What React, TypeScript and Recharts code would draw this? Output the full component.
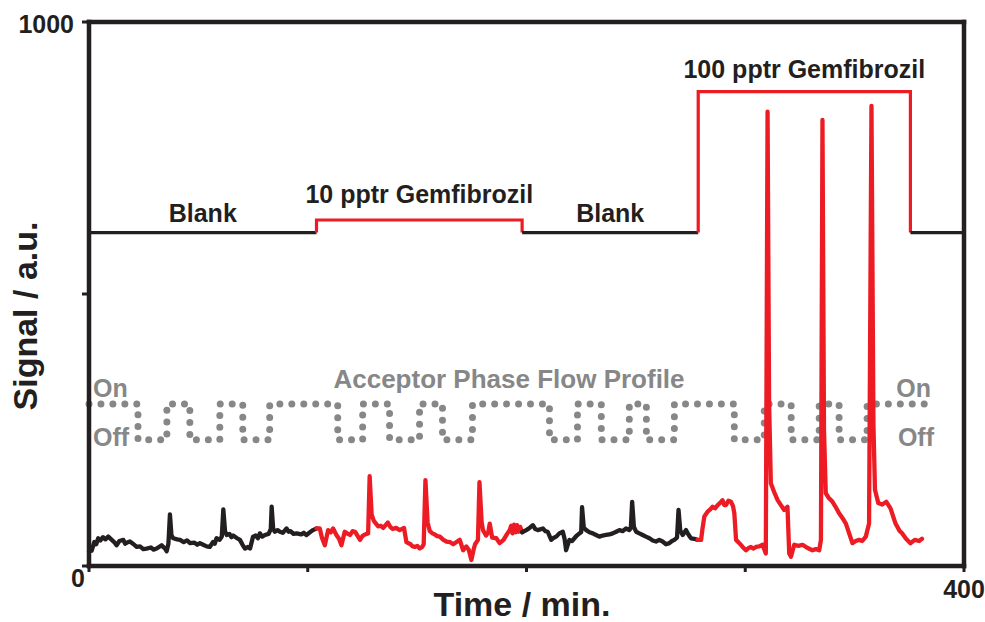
import React from 'react';
import { LineChart, Line, XAxis, YAxis, ReferenceLine, ReferenceDot } from 'recharts';

const FONT = '"Liberation Sans", Arial, Helvetica, sans-serif';
const INK = '#231f20';
const RED = '#ed1c24';
const GREY = '#878787';

// injection program: segment edges (min), level drawn for each segment, caption
const injectionEdges = [0, 104, 198, 278.5, 375.5, 400];
const injectionLevels = [613, 636, 613, 872, 613];
const injectionLabels = ['Blank', '10 pptr Gemfibrozil', 'Blank', '100 pptr Gemfibrozil', ''];
const baseLevel = 613;

// acceptor phase valve switching times (min), profile starts "On"
const flowSwitchTimes = [
  0, 22.4, 35.6, 46.1, 59.8, 70.3, 82.6, 113.7, 125.1, 137.4, 151.1, 161.6, 175.3,
  210.5, 223.3, 234.2, 247, 254.8, 267.6, 295, 308.7, 321, 333.8, 342.9, 355.7, 384,
];
const flowOnLevel = 298;
const flowOffLevel = 232;

// detector trace, [time (min), signal (a.u.)]
const blankOneTrace = [
  [0, 27], [1.2, 28], [2.4, 44], [3.3, 40], [4.2, 51], [5.2, 47], [6.4, 53], [7.5, 49], [8.8, 54],
  [10.4, 48], [11.5, 44], [12.6, 38], [13.9, 46], [15.7, 48], [16.5, 41], [17.4, 43], [18.7, 45],
  [20.4, 40], [21.8, 35], [23.3, 36], [24.8, 31], [26.3, 32], [28.3, 34], [29.5, 30], [30.9, 32],
  [32, 35], [33.2, 38], [34.8, 32], [35.5, 27], [36.3, 41], [37, 95], [37.7, 56], [38.5, 51],
  [40.3, 49], [41.6, 48], [43.3, 44], [44.8, 47], [46.2, 42], [48.2, 43], [49.5, 39], [50.7, 42],
  [52.2, 39], [53.8, 36], [55.2, 35], [56.7, 44], [57.5, 41], [58.3, 51], [59.7, 48], [60.7, 54],
  [61.4, 104], [62.2, 64], [62.9, 57], [64.2, 59], [65.1, 53], [65.9, 56], [67.7, 51], [69, 48],
  [70.2, 39], [71.3, 32], [72.5, 35], [73.6, 32], [75, 54], [76.2, 56], [77.2, 51], [78.1, 60],
  [79.2, 54], [80.4, 57], [82.1, 59], [83.1, 68], [83.5, 109], [84.2, 68], [85, 63], [86.2, 66],
  [87.3, 63], [88.6, 61], [90.3, 69], [91.2, 63], [92.1, 64], [93.5, 59], [94.9, 60], [97, 58],
  [98.2, 61], [99.4, 57], [101, 62], [102.4, 66], [104, 69],
];

const tenPptrTrace = [
  [104, 69], [105.5, 69], [106.5, 52], [107.8, 38], [109.3, 66], [110.5, 62], [111.6, 69],
  [113.1, 57], [114.3, 50], [115.4, 38], [116.9, 63], [118, 60], [119.3, 57], [120.5, 64],
  [121.6, 63], [123.9, 48], [125, 55], [126.1, 58], [127.6, 60], [128.3, 165], [129.2, 95],
  [130.2, 83], [131.2, 78], [132.2, 73], [133.4, 74], [134.5, 70], [135.6, 75], [136.6, 80],
  [137.7, 72], [138.8, 68], [140.4, 70], [142, 66], [144, 70], [145.1, 44], [147, 40], [148, 36],
  [149, 35], [150.1, 37], [151.2, 32], [152.3, 35], [153, 40], [153.8, 158], [154.8, 80],
  [155.8, 64], [157, 60], [158, 58], [159.2, 55], [160.4, 54], [162, 48], [163.4, 45], [165, 44],
  [166.5, 40], [168, 44], [169.5, 48], [171, 29], [172.5, 36], [173.6, 30], [174.8, 11],
  [175.8, 30], [176.5, 40], [177.8, 48], [178.5, 154], [179.5, 80], [180.1, 66], [181.5, 56],
  [182.5, 62], [183.2, 78], [184.3, 52], [186.2, 51], [187.7, 42], [189.5, 48], [191, 58],
  [192.3, 66], [193, 74], [193.6, 60], [194.3, 76], [195, 62], [195.7, 75], [196.4, 63],
  [197.1, 72], [198, 62],
];

const blankTwoTrace = [
  [198, 62], [199.9, 66], [201.4, 70], [202.9, 75], [204, 68], [205.2, 66], [207.5, 69],
  [208.6, 64], [209.7, 63], [211.3, 48], [212.5, 52], [213.6, 54], [215, 60], [216.6, 63],
  [217.4, 50], [218.1, 29], [219.6, 48], [220.8, 46], [221.9, 51], [223, 56], [224.2, 60],
  [225, 62], [225.4, 108], [226.2, 70], [227.3, 66], [228.8, 62], [230.3, 60], [231.8, 57],
  [233.3, 54], [234.8, 56], [236.4, 57], [237.9, 58], [239.4, 60], [241, 63], [242.5, 66],
  [244, 64], [245.5, 69], [247, 66], [247.7, 70], [248.3, 118], [249.1, 72], [250.1, 63],
  [251.6, 60], [253.1, 57], [254.6, 54], [256.2, 51], [257.7, 47], [259.2, 45], [260.7, 48],
  [262.2, 45], [263.8, 40], [265.3, 42], [266.5, 46], [267.6, 48], [268.8, 52], [269.5, 103],
  [270.3, 65], [271.4, 57], [272.9, 66], [274, 58], [275.2, 51], [276.7, 50], [278.2, 48],
];

const hundredPptrTrace = [
  [278.2, 48], [279.8, 48], [280.5, 70], [281.3, 91], [282.8, 100], [284, 104], [285.1, 109],
  [286.2, 106], [287.4, 112], [288.5, 116], [289.6, 121], [290.4, 112], [291.2, 112],
  [292.3, 120], [293.5, 118], [294.4, 110], [295, 97], [295.8, 48], [297.3, 42], [298.8, 35],
  [300.3, 29], [301.5, 33], [302.6, 35], [303.8, 32], [304.9, 35], [306.4, 36], [307.9, 39],
  [309.4, 23], [310.2, 835], [310.9, 300], [311.7, 152], [313.2, 136], [314.8, 121],
  [316.3, 112], [317.8, 103], [319.3, 109], [320.1, 23], [320.9, 17], [322.4, 39], [324.3, 37],
  [326.2, 39], [328.5, 33], [330.7, 29], [332.3, 31], [333.8, 29], [334.6, 48], [335.3, 820],
  [336, 250], [336.8, 134], [338, 126], [339.9, 118], [341.4, 108], [342.9, 97], [344.5, 88],
  [346, 78], [347.5, 60], [349, 42], [350.5, 46], [352, 48], [353.5, 46], [355.1, 54],
  [356.6, 78], [357.7, 846], [358.6, 260], [359.3, 140], [360.8, 116], [362.6, 113],
  [364.5, 118], [366.4, 106], [368.7, 78], [370.5, 65], [371.7, 60], [373.5, 50], [375.5, 42],
  [377.5, 48], [379.5, 46], [380.8, 50],
];

const signalSegments = [
  { trace: blankOneTrace, color: INK },
  { trace: tenPptrTrace, color: RED },
  { trace: blankTwoTrace, color: INK },
  { trace: hundredPptrTrace, color: RED },
];

const toPoints = (trace: number[][]) => trace.map(([t, v]) => ({ t, v }));

// square steps of the injection program
const injectionSteps = injectionLevels.map((level, i) => {
  const a = injectionEdges[i];
  const b = injectionEdges[i + 1];
  const raised = level !== baseLevel;
  const pts = raised
    ? [{ t: a, v: baseLevel }, { t: a, v: level }, { t: b, v: level }, { t: b, v: baseLevel }]
    : [{ t: a, v: level }, { t: b, v: level }];
  return { pts, color: raised ? RED : INK, label: injectionLabels[i], mid: (a + b) / 2, level, raised };
});

const lastSwitch = flowSwitchTimes.length - 1;
const flowProfile = flowSwitchTimes.map((t, i) => ({
  t,
  v: Math.min(i, lastSwitch - 1) % 2 === 0 ? flowOnLevel : flowOffLevel,
}));
const flowMid = (flowSwitchTimes[0] + flowSwitchTimes[lastSwitch]) / 2;

const caption =
  (text: string, dx: number, dy: number, size: number, color: string, anchor = 'middle') =>
  ({ viewBox }: any) => (
    <text
      x={viewBox.x + dx}
      y={viewBox.y + dy}
      textAnchor={anchor}
      fill={color}
      fontSize={size}
      fontWeight="bold"
      fontFamily={FONT}
    >
      {text}
    </text>
  );

const TimeTick = ({ x, y, payload }: any) => {
  if (payload.value === 400 || payload.value === 0) {
    const zero = payload.value === 0;
    return (
      <text
        x={zero ? x - 11 : x}
        y={zero ? y + 4 : y + 15}
        textAnchor="middle"
        dominantBaseline="central"
        fill={INK}
        fontSize={25}
        fontWeight="bold"
        fontFamily={FONT}
      >
        {payload.value}
      </text>
    );
  }
  return <g />;
};

const SignalTick = ({ x, y, payload }: any) =>
  payload.value === 1000 ? (
    <text
      x={x - 6}
      y={y + 1.5}
      textAnchor="end"
      dominantBaseline="central"
      fill={INK}
      fontSize={25}
      fontWeight="bold"
      fontFamily={FONT}
    >
      {payload.value}
    </text>
  ) : (
    <g />
  );

const frame = { stroke: INK, strokeWidth: 4.5, strokeLinecap: 'square' as const };

export default function App() {
  return (
    <div style={{ position: 'fixed', left: 0, top: 0, width: 985, height: 622, background: '#fff' }}>
      <LineChart
        width={985}
        height={622}
        margin={{ top: 22, right: 21, bottom: 16, left: 29 }}
        style={{ fontFamily: FONT }}
      >
        <XAxis
          dataKey="t"
          type="number"
          domain={[0, 400]}
          ticks={[0, 100, 200, 300, 400]}
          height={40}
          tickSize={6}
          axisLine={frame}
          tickLine={{ stroke: INK, strokeWidth: 3 }}
          tick={<TimeTick />}
        />
        <YAxis
          dataKey="v"
          type="number"
          domain={[0, 1000]}
          ticks={[0, 500, 1000]}
          width={60}
          tickSize={7}
          axisLine={frame}
          tickLine={{ stroke: INK, strokeWidth: 3 }}
          tick={<SignalTick />}
        />
        <ReferenceLine y={1000} {...frame} />
        <ReferenceLine x={400} {...frame} />

        {/* axis titles, hung off the plot edges */}
        <ReferenceDot x={200} y={0} r={0} fill="none" stroke="none" label={caption('Time / min.', -4.5, 50, 34, INK)} />
        <ReferenceDot
          x={0}
          y={500}
          r={0}
          fill="none"
          stroke="none"
          label={({ viewBox }: any) => (
            <text
              x={viewBox.x - 52}
              y={viewBox.y + 22}
              transform={`rotate(-90 ${viewBox.x - 52} ${viewBox.y + 22})`}
              textAnchor="middle"
              fill={INK}
              fontSize={34}
              fontWeight="bold"
              fontFamily={FONT}
            >
              Signal / a.u.
            </text>
          )}
        />

        {/* acceptor phase flow profile */}
        <Line
          data={flowProfile}
          dataKey="v"
          type="stepAfter"
          stroke={GREY}
          strokeWidth={7}
          strokeDasharray="0 11.95"
          strokeLinecap="round"
          dot={false}
          activeDot={false}
          isAnimationActive={false}
        />
        <ReferenceDot x={flowMid} y={flowOnLevel} r={0} fill="none" stroke="none" label={caption('Acceptor Phase Flow Profile', 0, -16, 26, GREY)} />
        <ReferenceDot x={0} y={flowOnLevel} r={0} fill="none" stroke="none" label={caption('On', 4, -7, 25, GREY, 'start')} />
        <ReferenceDot x={0} y={flowOffLevel} r={0} fill="none" stroke="none" label={caption('Off', 4, 6, 25, GREY, 'start')} />
        <ReferenceDot x={flowSwitchTimes[lastSwitch]} y={flowOnLevel} r={0} fill="none" stroke="none" label={caption('On', 2, -7, 25, GREY, 'end')} />
        <ReferenceDot x={flowSwitchTimes[lastSwitch]} y={flowOffLevel} r={0} fill="none" stroke="none" label={caption('Off', 5, 6, 25, GREY, 'end')} />

        {/* injection program */}
        {injectionSteps.map((s, i) => (
          <Line
            key={`step-${i}`}
            data={s.pts}
            dataKey="v"
            type="linear"
            stroke={s.color}
            strokeWidth={3.2}
            dot={false}
            activeDot={false}
            isAnimationActive={false}
          />
        ))}
        {injectionSteps
          .filter((s) => s.label)
          .map((s, i) => (
            <ReferenceDot
              key={`cap-${i}`}
              x={s.mid}
              y={s.level}
              r={0}
              fill="none"
              stroke="none"
              label={caption(s.label, 0, s.raised ? (s.level > 800 ? -13.5 : -17.5) : -10.5, 25, INK)}
            />
          ))}

        {/* detector signal */}
        {signalSegments.map((seg, i) => (
          <Line
            key={`sig-${i}`}
            data={toPoints(seg.trace)}
            dataKey="v"
            type="linear"
            stroke={seg.color}
            strokeWidth={4.3}
            strokeLinejoin="round"
            strokeLinecap="round"
            dot={false}
            activeDot={false}
            isAnimationActive={false}
          />
        ))}
      </LineChart>
    </div>
  );
}
